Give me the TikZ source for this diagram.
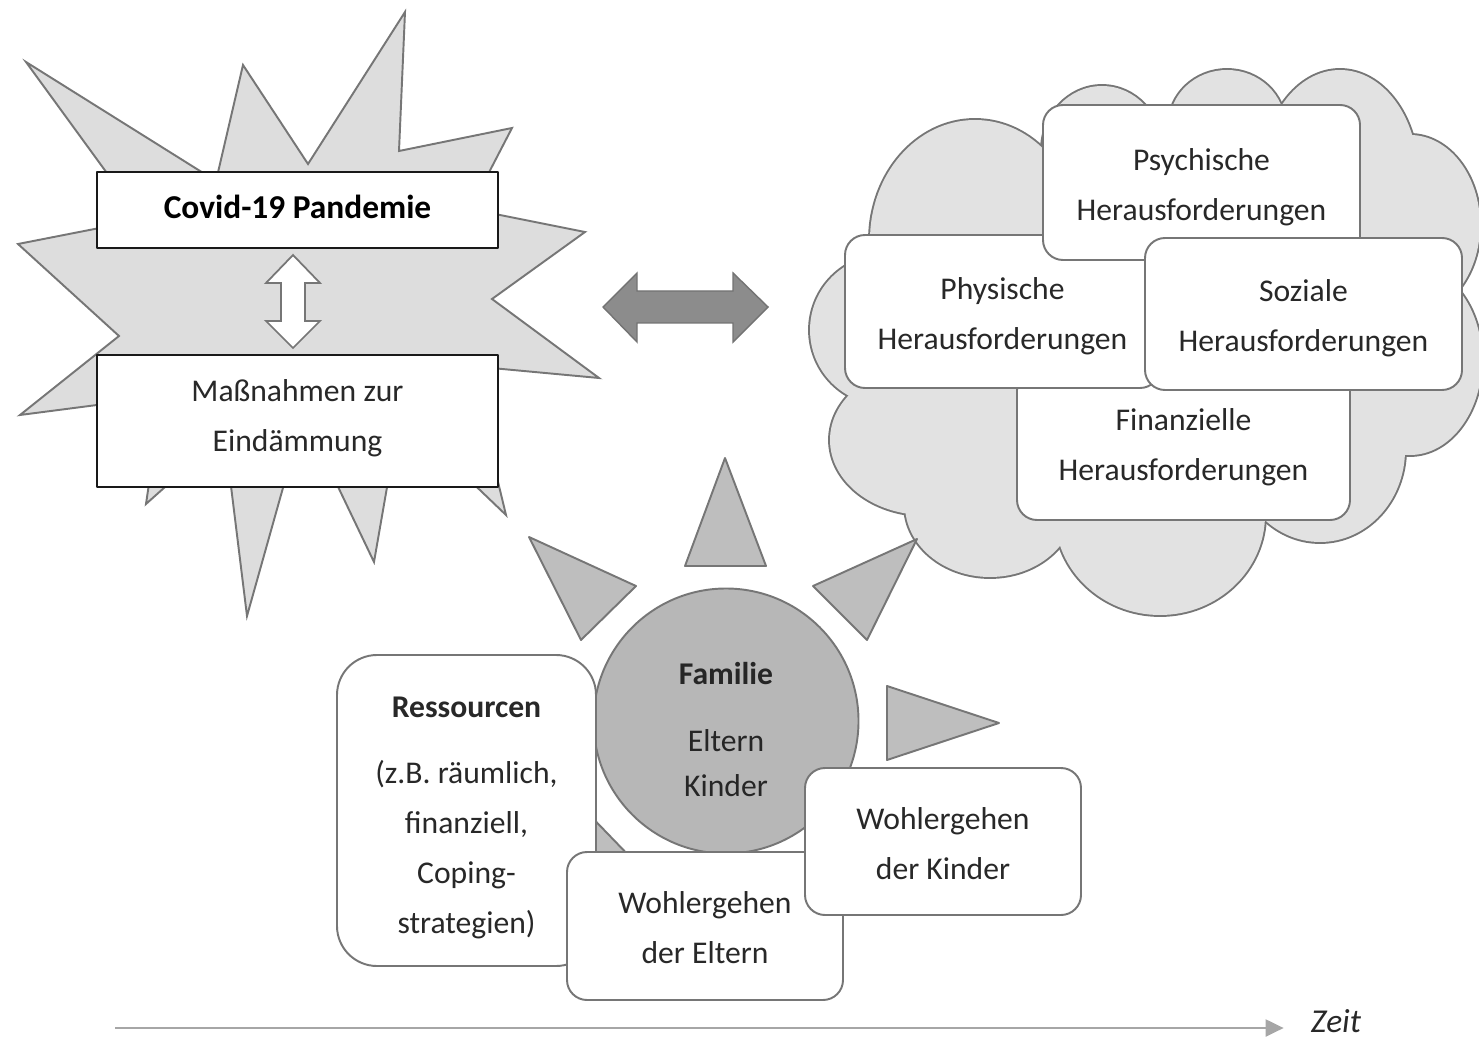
\documentclass[tikz,border=0pt]{standalone}
\usepackage{fontspec}
\setmainfont{Carlito}
\usetikzlibrary{arrows.meta,positioning}

\definecolor{outl}{RGB}{118,118,118}
\definecolor{starfill}{RGB}{221,221,221}
\definecolor{cloudfill}{RGB}{226,226,226}
\definecolor{rayfill}{RGB}{190,190,190}
\definecolor{famfill}{RGB}{183,183,183}
\definecolor{darkarrow}{RGB}{140,140,140}
\definecolor{txtgray}{RGB}{40,40,40}

\tikzstyle{sharpbox}=[rectangle,draw=black!90,line width=0.8pt,fill=white,inner sep=0pt]
\tikzstyle{softbox}=[rectangle,rounded corners=4mm,draw=outl,line width=1.1pt,
fill=white,inner sep=0pt]
\tikzstyle{inlbl}=[align=center,text=txtgray,inner sep=0pt]
\tikzstyle{ray}=[draw=outl,line width=1.1pt,fill=rayfill]
\tikzstyle{lobe}=[draw=outl,line width=2.2pt,fill=cloudfill]

\begin{document}
\begin{tikzpicture}[x=0.2mm,y=-0.2mm,font=\fontsize{18}{28.45}\selectfont,line join=round]
            \useasboundingbox (0,0) rectangle (1479,1041);

            % PANDEMIC PART

            \draw[draw=outl,line width=1.1pt,fill=starfill,line join=miter]
              (26,62) -- (216,181) -- (243,65) -- (308,164) -- (405,12) -- (399,151)
              -- (512,128) -- (470,209) -- (585,232) -- (492,299) -- (599,378)
              -- (470,366) -- (506,515) -- (459,470) -- (390,470) -- (374,562)
              -- (330,470) -- (288,470) -- (247,616) -- (229,470) -- (184,470)
              -- (146,504) -- (151,470) -- (120,402) -- (20,415) -- (119,336)
              -- (18,244) -- (120,224) -- (120,191) -- cycle;

            \node[sharpbox,minimum width=80.2mm,minimum height=15.2mm,
              label={[inlbl,text=black,yshift=0.6mm,font=\fontsize{19}{24}\selectfont]center:\textbf{Covid-19 Pandemie}}] (covid) at (297.5,210) {};
            \node[sharpbox,minimum width=80.2mm,minimum height=26.4mm,
              label={[inlbl,yshift=0.6mm]center:Maßnahmen zur\\Eindämmung}] (massn) at (297.5,421) {};

            \draw[draw=outl,line width=1pt,fill=white,line join=miter]
              (293,255) -- (320,283) -- (305,283) -- (305,321) -- (320,321) -- (293,348)
              -- (266,321) -- (281,321) -- (281,283) -- (266,283) -- cycle;

            \draw[draw=black!55,line width=0.8pt,fill=darkarrow,line join=miter]
              (603,307) -- (637,273) -- (637,291) -- (733,291) -- (733,273) -- (768,307)
              -- (733,342) -- (733,323) -- (637,323) -- (637,342) -- cycle;

            % CHALLENGES PART

            \foreach \cx/\cy/\rx/\ry in {975/240/105/120, 1102/150/60/64, 1227/125/58/55,
                1340/175/78/105, 1410/225/70/90, 1410/360/72/95, 885/330/75/75,
                925/440/95/75, 990/505/85/72, 1160/515/105/100, 1320/450/85/92}
              \draw[lobe] (\cx,\cy) ellipse [x radius=\rx, y radius=\ry];
            \foreach \cx/\cy/\rx/\ry in {975/240/105/120, 1102/150/60/64, 1227/125/58/55,
                1340/175/78/105, 1410/225/70/90, 1410/360/72/95, 885/330/75/75,
                925/440/95/75, 990/505/85/72, 1160/515/105/100, 1320/450/85/92,
                1140/340/260/200}
              \fill[cloudfill] (\cx,\cy) ellipse [x radius=\rx, y radius=\ry];

            \node[softbox,minimum width=66.6mm,minimum height=30mm,
              label={[inlbl,yshift=-0.4mm]center:Finanzielle\\Herausforderungen}] (fin) at (1183.5,445) {};
            \node[softbox,minimum width=63mm,minimum height=30.6mm,
              label={[inlbl,yshift=-1mm]center:Physische\\Herausforderungen}] (phys) at (1002.5,311.5) {};
            \node[softbox,minimum width=63.4mm,minimum height=31mm,
              label={[inlbl,yshift=-1mm]center:Psychische\\Herausforderungen}] (psych) at (1201.5,182.5) {};
            \node[softbox,minimum width=63.4mm,minimum height=30.4mm,
              label={[inlbl,yshift=-0.9mm]center:Soziale\\Herausforderungen}] (soz) at (1303.5,314) {};

            % FAMILY PART

            \draw[ray] (725,458) -- (766,566) -- (685,566) -- cycle;
            \draw[ray] (529,537) -- (636,586) -- (581,640) -- cycle;
            \draw[ray] (917,539) -- (867,640) -- (813,586) -- cycle;
            \draw[ray] (999,723) -- (887,760) -- (887,686) -- cycle;
            \draw[ray] (530,905) -- (580,805) -- (635,862) -- cycle;

            \node[circle,draw=outl,line width=1.1pt,fill=famfill,minimum size=53mm,inner sep=0pt,
              label={[inlbl,text=black!85,yshift=-1.7mm]center:\textbf{Familie}\\[3.4mm]Eltern\\[-1mm]Kinder}] (fam) at (726,721) {};

            \node[softbox,rounded corners=8mm,minimum width=51.8mm,minimum height=62.2mm,
              label={[inlbl,yshift=-1.4mm]center:\textbf{Ressourcen}\\[3.2mm](z.B. räumlich,\\finanziell,\\Coping-\\strategien)}] (res) at (466.5,810.5) {};
            \node[softbox,minimum width=55.2mm,minimum height=29.6mm,
              label={[inlbl,yshift=-0.4mm]center:Wohlergehen\\der Eltern}] (weltern) at (705,926) {};
            \node[softbox,minimum width=55.2mm,minimum height=29.4mm,
              label={[inlbl,yshift=-0.4mm]center:Wohlergehen\\der Kinder}] (wkinder) at (943,841.5) {};

            % TIME PART

            \coordinate (t0) at (115,1028);
            \node[inner sep=0pt,text=txtgray,font=\fontsize{19}{24}\selectfont\itshape] (zeit) at (1336,1021) {Zeit};
            \path[-{Triangle[length=3.6mm,width=3.4mm]},draw=black!35,fill=black!35,line width=1.2pt,
              shorten >=5.4mm] (t0) edge node {} (zeit.west |- t0);

\end{tikzpicture}
\end{document}
